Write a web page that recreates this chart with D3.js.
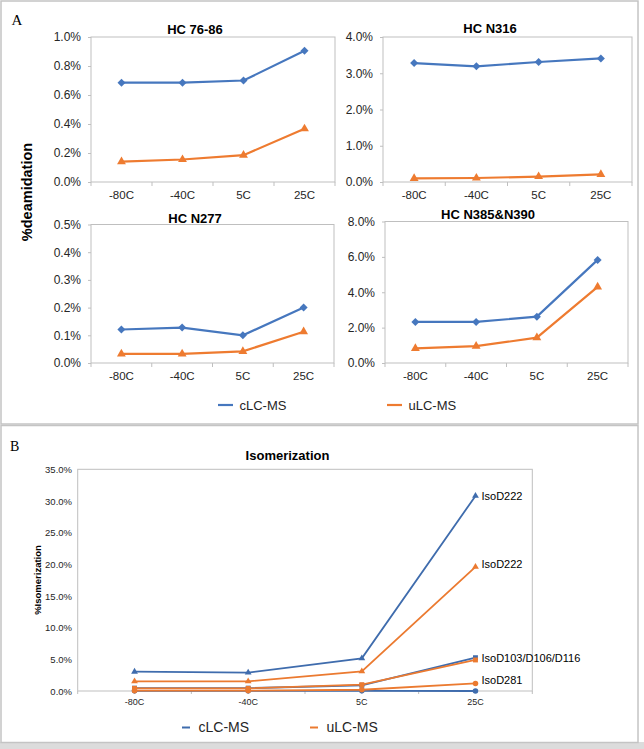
<!DOCTYPE html>
<html><head><meta charset="utf-8">
<script src="https://cdn.jsdelivr.net/npm/d3@7"></script>
<style>body{margin:0;background:#fff} svg{display:block}</style>
</head><body>
<svg id="c" width="644" height="749"></svg>
<script>
// ---------- DATA ----------
const categories = ["-80C", "-40C", "5C", "25C"];
const seriesNames = ["cLC-MS", "uLC-MS"];

// Panel A: %deamidation
const titlesA = ["HC 76-86", "HC N316", "HC N277", "HC N385&N390"];
const hc7686_cLC = [0.685, 0.685, 0.70, 0.905];
const hc7686_uLC = [0.14, 0.155, 0.185, 0.367];
const hcN316_cLC = [3.28, 3.19, 3.31, 3.41];
const hcN316_uLC = [0.10, 0.11, 0.15, 0.21];
const hcN277_cLC = [0.121, 0.128, 0.10, 0.20];
const hcN277_uLC = [0.033, 0.033, 0.042, 0.113];
const hcN385_cLC = [2.32, 2.32, 2.62, 5.83];
const hcN385_uLC = [0.83, 0.95, 1.43, 4.30];
const ticksHC7686 = [0, 0.2, 0.4, 0.6, 0.8, 1.0];
const ticksHCN316 = [0, 1, 2, 3, 4];
const ticksHCN277 = [0, 0.1, 0.2, 0.3, 0.4, 0.5];
const ticksHCN385 = [0, 2, 4, 6, 8];

// Panel B: %Isomerization
const isoD222_cLC = [3.05, 2.9, 5.16, 30.8];
const isoD222_uLC = [1.53, 1.53, 3.11, 19.6];
const isoD103_cLC = [0.45, 0.45, 0.9, 5.26];
const isoD103_uLC = [0.42, 0.42, 1.0, 4.9];
const isoD281_cLC = [0.02, 0.02, 0.02, 0.0];
const isoD281_uLC = [0.05, 0.05, 0.2, 1.2];
const labelsB = ["IsoD222", "IsoD222", "IsoD103/D106/D116", "IsoD281"];
const ticksIso = [0, 5, 10, 15, 20, 25, 30, 35];

// ---------- STYLE ----------
const FONT = "'Liberation Sans', Arial, sans-serif";
const BLUE_A = "#4677BE", ORANGE_A = "#EE7B30";
const BLUE_B = "#3F6CAD", ORANGE_B = "#EB7A30";
const GRID = "#BFBFBF", TXT = "#262626";

const svg = d3.select("#c").style("font-family", FONT);

// Frames
svg.append("rect").attr("x", 0).attr("y", 742).attr("width", 644).attr("height", 7).attr("fill", "#DCDCDC");
svg.append("rect").attr("x", 1).attr("y", 1).attr("width", 637).attr("height", 423)
  .attr("fill", "#fff").attr("stroke", "#C4C4C4").attr("stroke-width", 1.5);
svg.append("rect").attr("x", 1).attr("y", 425.5).attr("width", 637).attr("height", 317)
  .attr("fill", "#fff").attr("stroke", "#C4C4C4").attr("stroke-width", 1.5);

svg.append("text").attr("x", 11.5).attr("y", 25).attr("font-family", "'Liberation Serif', 'Times New Roman', serif")
  .attr("font-size", 15).text("A");
svg.append("text").attr("x", 10).attr("y", 451).attr("font-family", "'Liberation Serif', 'Times New Roman', serif")
  .attr("font-size", 14).text("B");

function diamond(r) { return `M0,${-r}L${r},0L0,${r}L${-r},0Z`; }

function miniChart(cfg) {
  const g = svg.append("g");
  const x = d3.scaleBand().domain(categories).range([cfg.x0, cfg.x1]);
  const y = d3.scaleLinear().domain([0, d3.max(cfg.ticks)]).range([cfg.y1, cfg.y0]);
  const cx = c => x(c) + x.bandwidth() / 2;

  g.append("rect").attr("x", cfg.x0).attr("y", cfg.y0).attr("width", cfg.x1 - cfg.x0)
    .attr("height", cfg.y1 - cfg.y0).attr("fill", "none").attr("stroke", GRID).attr("stroke-width", 1);

  const ya = g.append("g").attr("transform", `translate(${cfg.x0},0)`)
    .call(d3.axisLeft(y).tickValues(cfg.ticks).tickSize(3).tickPadding(7)
      .tickFormat(d => d3.format(".1f")(d) + "%"));
  ya.select(".domain").remove();
  ya.selectAll("line").attr("stroke", GRID);
  ya.selectAll("text").attr("font-size", 12).attr("fill", TXT).attr("font-family", FONT);

  const xa = g.append("g").attr("transform", `translate(0,${cfg.y1})`)
    .call(d3.axisBottom(x).tickSize(0).tickPadding(9));
  xa.select(".domain").remove();
  xa.selectAll("text").attr("font-size", 11.5).attr("fill", TXT).attr("font-family", FONT);
  const bounds = categories.map(c => x(c)).concat([cfg.x1]);
  g.selectAll(".bt").data(bounds).enter().append("line")
    .attr("x1", d => d).attr("x2", d => d).attr("y1", cfg.y1).attr("y2", cfg.y1 + 4)
    .attr("stroke", GRID);

  g.append("text").attr("x", cfg.titleX).attr("y", cfg.titleY).attr("text-anchor", "middle")
    .attr("font-size", 13).attr("font-weight", "bold").attr("fill", "#000").text(cfg.title);

  const line = d3.line().x((d, i) => cx(categories[i])).y(d => y(d));
  g.append("path").attr("d", line(cfg.c)).attr("fill", "none").attr("stroke", BLUE_A).attr("stroke-width", 2.2);
  g.selectAll(".mc").data(cfg.c).enter().append("path")
    .attr("transform", (d, i) => `translate(${cx(categories[i])},${y(d)})`)
    .attr("d", diamond(4)).attr("fill", BLUE_A);
  g.append("path").attr("d", line(cfg.u)).attr("fill", "none").attr("stroke", ORANGE_A).attr("stroke-width", 2.2);
  g.selectAll(".mu").data(cfg.u).enter().append("path")
    .attr("transform", (d, i) => `translate(${cx(categories[i])},${y(d)})`)
    .attr("d", d3.symbol(d3.symbolTriangle, 34)()).attr("fill", ORANGE_A);
}

miniChart({x0: 91, x1: 335, y0: 37, y1: 182, ticks: ticksHC7686, title: titlesA[0], titleX: 195, titleY: 33.5, c: hc7686_cLC, u: hc7686_uLC});
miniChart({x0: 383, x1: 632, y0: 37, y1: 182, ticks: ticksHCN316, title: titlesA[1], titleX: 490, titleY: 33, c: hcN316_cLC, u: hcN316_uLC});
miniChart({x0: 91, x1: 334, y0: 224.5, y1: 363, ticks: ticksHCN277, title: titlesA[2], titleX: 195, titleY: 222.5, c: hcN277_cLC, u: hcN277_uLC});
miniChart({x0: 385, x1: 628, y0: 221.5, y1: 363, ticks: ticksHCN385, title: titlesA[3], titleX: 488, titleY: 218.5, c: hcN385_cLC, u: hcN385_uLC});

svg.append("text").attr("transform", "translate(31.5,192) rotate(-90)").attr("text-anchor", "middle")
  .attr("font-size", 14.5).attr("font-weight", "bold").attr("fill", "#000").text("%deamidation");

// Legend A
const legA = [{x: 218, c: BLUE_A}, {x: 387, c: ORANGE_A}];
legA.forEach((L, i) => {
  svg.append("line").attr("x1", L.x).attr("x2", L.x + 15).attr("y1", 405).attr("y2", 405)
    .attr("stroke", L.c).attr("stroke-width", 2.2);
  svg.append("text").attr("x", L.x + 21.5).attr("y", 405).attr("dy", "0.35em").attr("font-size", 13)
    .attr("fill", TXT).text(seriesNames[i]);
});

// ---------- Panel B ----------
(function () {
  const x0 = 77.7, x1 = 532.3, y0 = 469.3, y1 = 691;
  const g = svg.append("g");
  const x = d3.scaleBand().domain(categories).range([x0, x1]);
  const y = d3.scaleLinear().domain([0, d3.max(ticksIso)]).range([y1, y0]);
  const cx = c => x(c) + x.bandwidth() / 2;

  g.append("rect").attr("x", x0).attr("y", y0).attr("width", x1 - x0).attr("height", y1 - y0)
    .attr("fill", "none").attr("stroke", GRID).attr("stroke-width", 1);
  const ya = g.append("g").attr("transform", `translate(${x0},0)`)
    .call(d3.axisLeft(y).tickValues(ticksIso).tickSize(0).tickPadding(5.7)
      .tickFormat(d => d3.format(".1f")(d) + "%"));
  ya.select(".domain").remove();
  ya.selectAll("text").attr("font-size", 9.5).attr("fill", TXT).attr("font-family", FONT);
  const xa = g.append("g").attr("transform", `translate(0,${y1})`)
    .call(d3.axisBottom(x).tickSize(0).tickPadding(8));
  xa.select(".domain").remove();
  xa.selectAll("text").attr("font-size", 9).attr("fill", TXT).attr("font-family", FONT);
  const bounds = categories.map(c => x(c)).concat([x1]);
  g.selectAll(".bt").data(bounds).enter().append("line")
    .attr("x1", d => d).attr("x2", d => d).attr("y1", y1).attr("y2", y1 + 3).attr("stroke", GRID);

  svg.append("text").attr("x", 287.5).attr("y", 460).attr("text-anchor", "middle")
    .attr("font-size", 13).attr("font-weight", "bold").attr("fill", "#000").text("Isomerization");
  svg.append("text").attr("transform", "translate(41,580) rotate(-90)").attr("text-anchor", "middle")
    .attr("font-size", 9.5).attr("font-weight", "bold").attr("fill", "#000").text("%Isomerization");

  const line = d3.line().x((d, i) => cx(categories[i])).y(d => y(d));
  const series = [
    {v: isoD281_cLC, c: BLUE_B, s: d3.symbolCircle, size: 24},
    {v: isoD103_cLC, c: BLUE_B, s: d3.symbolSquare, size: 24},
    {v: isoD222_cLC, c: BLUE_B, s: d3.symbolTriangle, size: 20},
    {v: isoD281_uLC, c: ORANGE_B, s: d3.symbolCircle, size: 24, label: labelsB[3], dy: -3},
    {v: isoD103_uLC, c: ORANGE_B, s: d3.symbolSquare, size: 24, label: labelsB[2], dy: -2},
    {v: isoD222_uLC, c: ORANGE_B, s: d3.symbolTriangle, size: 20, label: labelsB[1], dy: -3},
  ];
  series.forEach(S => {
    g.append("path").attr("d", line(S.v)).attr("fill", "none").attr("stroke", S.c).attr("stroke-width", 1.8);
    g.selectAll(null).data(S.v).enter().append("path")
      .attr("transform", (d, i) => `translate(${cx(categories[i])},${y(d)})`)
      .attr("d", d3.symbol(S.s, S.size)()).attr("fill", S.c);
  });
  // label for cLC IsoD222
  const lab = [
    {v: isoD222_cLC, t: labelsB[0], dy: 0},
    {v: isoD222_uLC, t: labelsB[1], dy: -3},
    {v: isoD103_cLC, t: labelsB[2], dy: 0.5},
    {v: isoD281_uLC, t: labelsB[3], dy: -3},
  ];
  lab.forEach(L => {
    g.append("text").attr("x", cx(categories[3]) + 6).attr("y", y(L.v[3]) + L.dy).attr("dy", "0.35em")
      .attr("font-size", 11).attr("fill", "#000").text(L.t);
  });

  // Legend B
  const legB = [{x: 182, c: BLUE_B}, {x: 310, c: ORANGE_B}];
  legB.forEach((L, i) => {
    svg.append("line").attr("x1", L.x).attr("x2", L.x + 8).attr("y1", 727.5).attr("y2", 727.5)
      .attr("stroke", L.c).attr("stroke-width", 2);
    svg.append("text").attr("x", L.x + 16.5).attr("y", 727.5).attr("dy", "0.35em").attr("font-size", 14)
      .attr("fill", TXT).text(seriesNames[i]);
  });
})();
</script>
</body></html>
